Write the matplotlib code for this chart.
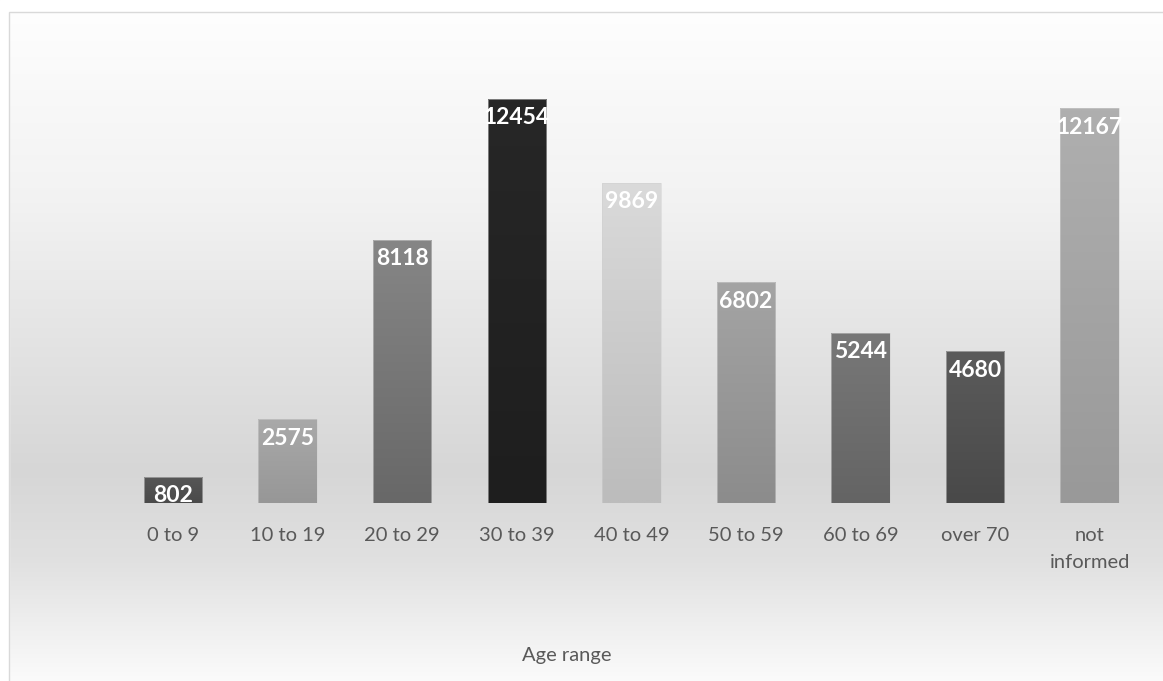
import numpy as np
import matplotlib
matplotlib.use('Agg')
import matplotlib.pyplot as plt
from matplotlib.colors import to_rgb
from matplotlib.patches import Rectangle

categories = ['0 to 9', '10 to 19', '20 to 29', '30 to 39', '40 to 49',
              '50 to 59', '60 to 69', 'over 70', 'not\ninformed']
counts = [802, 2575, 8118, 12454, 9869, 6802, 5244, 4680, 12167]
top_colors = ['#575757', '#a9a9a9', '#868686', '#272727', '#dadada',
              '#a4a4a4', '#787878', '#5b5b5b', '#afafaf']
bottom_colors = ['#4a4a4a', '#979797', '#686868', '#1e1e1e', '#bcbcbc',
                 '#8c8c8c', '#646464', '#494949', '#999999']

plt.rcParams['font.family'] = ['Lato', 'DejaVu Sans']

fig = plt.figure(figsize=(11.63, 6.81), dpi=100)

# background gradient behind everything (with the outer frame)
bg = fig.add_axes([0, 0, 1, 1], zorder=0)
bg.set_axis_off()
H = 681
ys = np.array([0, 12, 200, 470, 560, 681])
vals = np.array([1.0, 0.995, 0.95, 0.84, 0.88, 0.985])
col = np.interp(np.arange(H), ys, vals)
img = np.repeat(col[:, None], 4, axis=1)
img3 = np.dstack([img, img, img])
bg.imshow(img3, aspect='auto', extent=[0, 1, 0, 1], origin='upper',
          interpolation='bilinear')
bg.add_patch(Rectangle((0, 1 - 12 / H), 1, 12 / H, color='white', zorder=2))
bg.add_patch(Rectangle((0, 0), 9 / 1163, 1, color='white', zorder=2))
bg.add_patch(Rectangle((9 / 1163, -0.01), 1, 1 - 12 / H + 0.01, fill=False,
                       edgecolor='#d9d9d9', lw=1, zorder=3))
bg.set_xlim(0, 1)
bg.set_ylim(0, 1)

# plot area: x 115.7 -> 1147, baseline at y=503, 14000 at ~49
left = 115.7 / 1163
right = 1147 / 1163
bottom = 1 - 503 / H
top = 1 - 49 / H
ax = fig.add_axes([left, bottom, right - left, top - bottom], zorder=1)
ax.patch.set_alpha(0)
for s in ax.spines.values():
    s.set_visible(False)

x = np.arange(len(categories))
bars = ax.bar(x, counts, width=0.51, color='none', edgecolor='none')
for b, c1, c2 in zip(bars, top_colors, bottom_colors):
    r1, r2 = np.array(to_rgb(c1)), np.array(to_rgb(c2))
    t = np.linspace(0, 1, 64)[:, None]
    grad = (r1 * (1 - t) + r2 * t)[:, None, :]
    bx, bw, bh = b.get_x(), b.get_width(), b.get_height()
    im = ax.imshow(grad, aspect='auto', extent=[bx, bx + bw, 0, bh],
                   origin='upper', interpolation='bilinear', zorder=2)
    im.set_clip_path(b)
    ax.add_patch(Rectangle((bx, 0), bw, bh, fill=False, edgecolor='#d0d0d0',
                           lw=0.6, alpha=0.6, zorder=3))
    ax.annotate(f'{int(bh)}', (bx + bw / 2, bh), xytext=(0, -6),
                textcoords='offset points', ha='center', va='top',
                color='white', fontsize=16.5, fontweight='bold', zorder=4)

ax.set_xlim(-0.5, len(categories) - 0.5)
ax.set_ylim(0, 14000)
ax.set_yticks([])
ax.set_xticks(x)
ax.set_xticklabels(categories, fontsize=14.5, color='#595959', linespacing=1.75)
ax.tick_params(axis='x', length=0, pad=17)

fig.text(567 / 1163, 1 - 655 / H, 'Age range', ha='center', va='center',
         fontsize=14.5, color='#595959')

fig.savefig('out.png', dpi=100)
